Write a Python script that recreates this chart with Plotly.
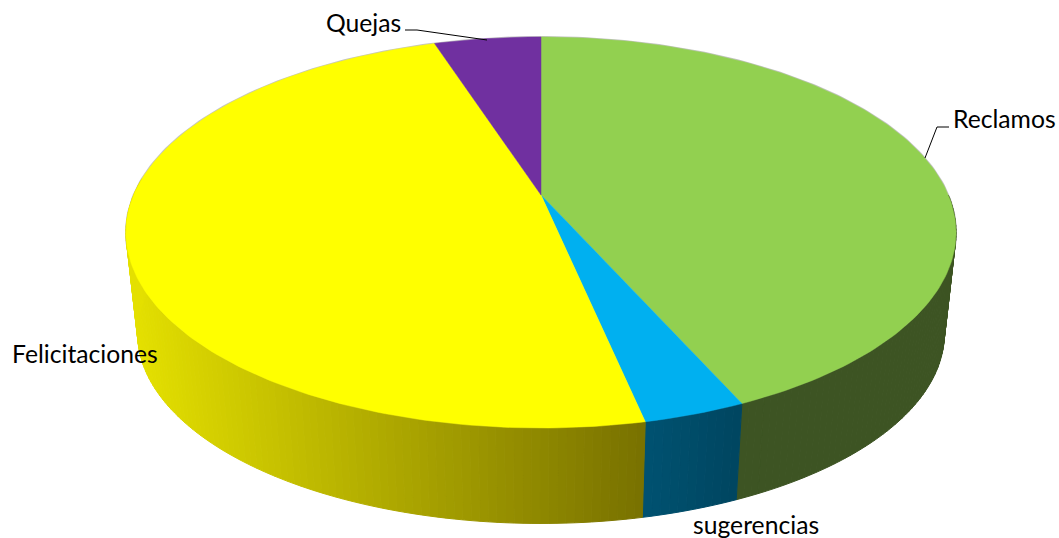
import numpy as np
import plotly.graph_objects as go

# --- data -------------------------------------------------------------
categories = ["Reclamos", "sugerencias", "Felicitaciones", "Quejas"]
values = [26, 2, 29, 3]

# --- style ------------------------------------------------------------
top_colors = ["#92D050", "#00B0F0", "#FFFF00", "#7030A0"]
side_colors = [((61, 84, 35), (61, 84, 35)),
               ((0, 82, 114), (0, 70, 96)),
               ((228, 224, 0), (120, 113, 0)),
               ((60, 30, 90), (60, 30, 90))]
side_x_span = [(640, 950), (641, 741), (130, 645), (430, 545)]
FONT = "Lato"
FONT_SIZE = 24.7

# --- projection of the disc (perspective, seen from above) ------------
CX, Y_TOP, Y_BOT = 541.0, 195.0, 297.0
A, B, P = 407.3, 188.3, 0.1918
SHRINK = 0.972


def project(theta, y0=Y_TOP, s=1.0):
    u, v = np.sin(theta), np.cos(theta)
    w = 1 + P * v
    return CX + s * A * u / w, y0 - s * B * v / w


fracs = np.array(values, dtype=float) / sum(values)
edges = np.concatenate([[0], np.cumsum(fracs)]) * 2 * np.pi

fig = go.Figure()


def poly(xs, ys, color, lw=1.0):
    fig.add_trace(go.Scatter(x=list(xs), y=list(ys), mode="lines", fill="toself",
                             fillcolor=color, line=dict(color=color, width=lw),
                             hoverinfo="skip", showlegend=False))


# faint grey rim behind the whole body
th = np.linspace(0, 2 * np.pi, 361)
tx, ty = project(th)
fig.add_trace(go.Scatter(x=tx, y=ty, mode="lines", line=dict(color="#c4c4c4", width=2),
                         hoverinfo="skip", showlegend=False))

# side wall, only the part that faces the viewer
VIS_LO, VIS_HI = np.radians(90), np.radians(275)
for i in range(len(values)):
    a0, a1 = max(edges[i], VIS_LO), min(edges[i + 1], VIS_HI)
    if a1 <= a0:
        continue
    n = max(2, int(np.degrees(a1 - a0) / 1.0))
    grid = np.linspace(a0, a1, n + 1)
    c0, c1 = np.array(side_colors[i][0]), np.array(side_colors[i][1])
    xa, xb = side_x_span[i]
    for k in range(n):
        seg = np.linspace(grid[k], grid[k + 1], 3)
        x1, y1 = project(seg)
        x2, y2 = project(seg[::-1], Y_BOT, SHRINK)
        t = np.clip((x1.mean() - xa) / (xb - xa), 0, 1)
        col = (c0 + (c1 - c0) * t).round().astype(int)
        poly(np.r_[x1, x2, x1[0]], np.r_[y1, y2, y1[0]], f"rgb({col[0]},{col[1]},{col[2]})", 1.0)

# top faces
for i in range(len(values)):
    seg = np.linspace(edges[i], edges[i + 1], max(3, int(np.degrees(edges[i + 1] - edges[i]))))
    x, y = project(seg)
    poly(np.r_[CX, x, CX], np.r_[Y_TOP, y, Y_TOP], top_colors[i], 0.5)

# leader lines
for lx, ly in [((405, 417, 487), (30, 30, 40)), ((949, 937, 925), (127, 127, 158))]:
    fig.add_trace(go.Scatter(x=lx, y=ly, mode="lines", line=dict(color="black", width=1),
                             hoverinfo="skip", showlegend=False))

# labels
label_pos = {"Quejas": (324, 22), "Reclamos": (951, 118),
             "Felicitaciones": (10, 353), "sugerencias": (691, 524)}
for name in categories:
    lx, ly = label_pos[name]
    fig.add_annotation(x=lx, y=ly, text=name, showarrow=False, xanchor="left", yanchor="middle",
                       font=dict(family=FONT, size=FONT_SIZE, color="black"))

fig.update_layout(
    width=1059, height=538, margin=dict(l=0, r=0, t=0, b=0),
    paper_bgcolor="white", plot_bgcolor="white", showlegend=False,
    xaxis=dict(range=[0, 1059], visible=False, fixedrange=True),
    yaxis=dict(range=[538, 0], visible=False, fixedrange=True),
)
fig.write_html("out.html", config={"displayModeBar": False},
               post_script="document.body.style.margin='0';document.documentElement.style.overflow='hidden';")
